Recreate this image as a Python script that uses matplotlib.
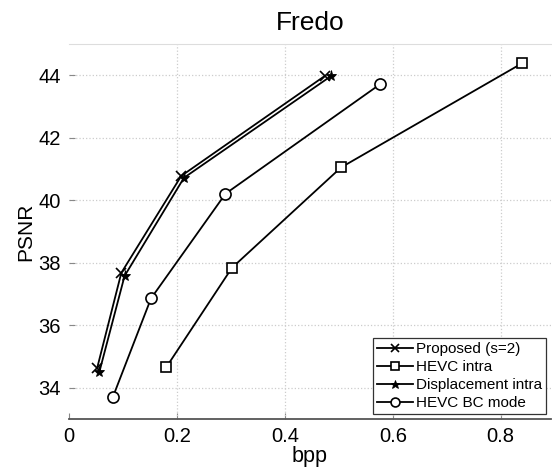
import matplotlib
matplotlib.use('Agg')
import matplotlib.pyplot as plt

plt.rcParams['font.family'] = ['Liberation Sans', 'DejaVu Sans']

# rate-distortion points
proposed_bpp = [0.052, 0.097, 0.208, 0.474]
proposed_psnr = [34.62, 37.68, 40.78, 43.98]

hevc_intra_bpp = [0.180, 0.302, 0.504, 0.839]
hevc_intra_psnr = [34.65, 37.84, 41.05, 44.38]

displacement_bpp = [0.056, 0.103, 0.213, 0.485]
displacement_psnr = [34.49, 37.58, 40.72, 43.97]

hevc_bc_bpp = [0.081, 0.152, 0.290, 0.576]
hevc_bc_psnr = [33.69, 36.86, 40.21, 43.71]

x_ticks = [0, 0.2, 0.4, 0.6, 0.8]
x_tick_labels = ['0', '0.2', '0.4', '0.6', '0.8']
y_ticks = [34, 36, 38, 40, 42, 44]

fig = plt.figure(figsize=(5.52, 4.74), dpi=100)
ax = fig.add_axes([0.125, 0.116, 0.873, 0.791])

ax.plot(proposed_bpp, proposed_psnr, color='black', marker='x', ms=6.5, mew=1.2,
        lw=1.3, label='Proposed (s=2)')
ax.plot(hevc_intra_bpp, hevc_intra_psnr, color='black', marker='s', ms=7,
        mfc='white', mew=1.2, lw=1.3, label='HEVC intra')
ax.plot(displacement_bpp, displacement_psnr, color='black', marker='*', ms=8,
        mew=0.6, lw=1.3, label='Displacement intra')
ax.plot(hevc_bc_bpp, hevc_bc_psnr, color='black', marker='o', ms=8,
        mfc='white', mew=1.2, lw=1.3, label='HEVC BC mode')

ax.set_xlim(0, 0.893)
ax.set_ylim(33, 45)
ax.set_xticks(x_ticks)
ax.set_xticklabels(x_tick_labels)
ax.set_yticks(y_ticks)
ax.tick_params(direction='in', length=4, color='#888888', labelsize=14.5, pad=6)

# vertical grid only at the non-zero ticks (nothing drawn along x=0)
ax.xaxis.remove_overlapping_locs = False
ax.set_xticks(x_ticks[1:], minor=True)
ax.tick_params(axis='x', which='minor', length=0)
ax.grid(True, axis='y', which='major', ls=':', color='#cccccc', lw=0.9)
ax.grid(True, axis='x', which='minor', ls=':', color='#cccccc', lw=0.9)
ax.set_axisbelow(True)

ax.spines['left'].set_visible(False)
ax.spines['right'].set_visible(False)
ax.spines['top'].set_color('#dddddd')
ax.spines['bottom'].set_color('#555555')
ax.spines['bottom'].set_linewidth(1.3)

ax.set_xlabel('bpp', fontsize=15.5, labelpad=0)
ax.set_ylabel('PSNR', fontsize=15, labelpad=2)
ax.set_title('Fredo', fontsize=19, pad=10)

leg = ax.legend(loc='lower right', fontsize=11, frameon=True, fancybox=False,
                edgecolor='#333333', framealpha=1, borderpad=0.3,
                labelspacing=0.25, handlelength=2.3, handletextpad=0.2,
                borderaxespad=0.3, markerscale=0.8)
leg.get_frame().set_linewidth(0.9)

fig.savefig('out.png', dpi=100)
